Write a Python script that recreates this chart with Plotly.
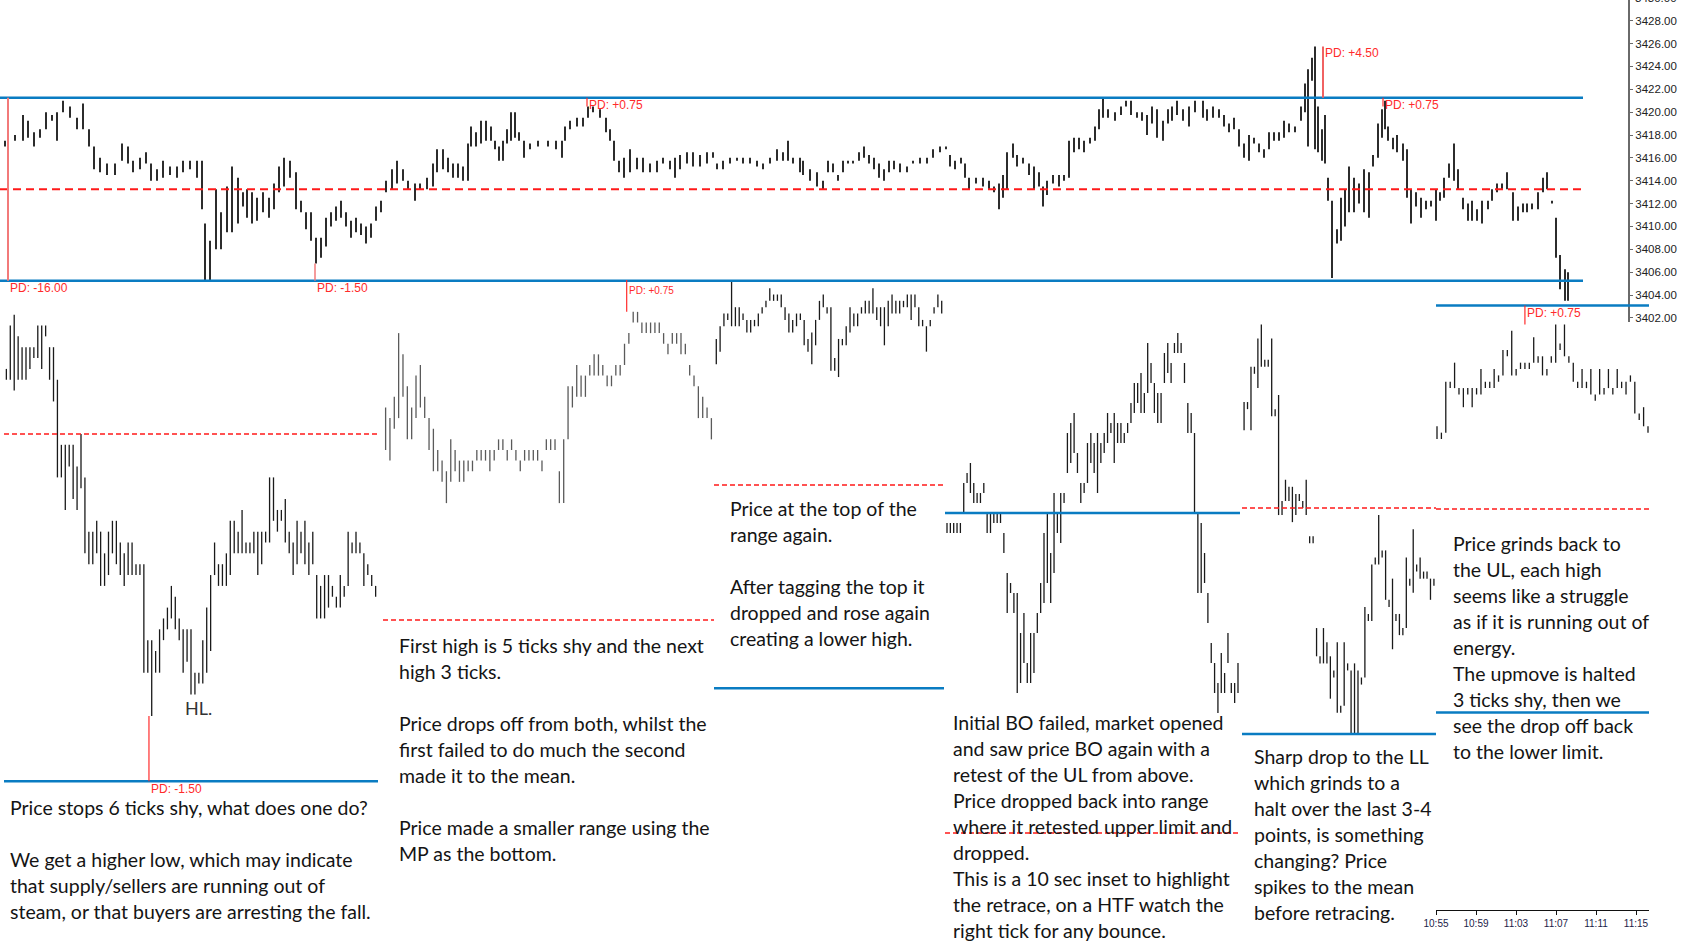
import plotly.graph_objects as go
import pandas as pd

W, H = 1682, 951

# ---------------- data ----------------
UL, MEAN, LL = 3421.25, 3413.25, 3405.25

main_x = [5, 15, 23, 28, 34, 40, 46, 52, 57, 63, 70, 77, 83, 89, 94, 100, 107, 115, 122, 128,
          133, 140, 146, 151, 157, 163, 170, 177, 183, 190, 197, 202, 205, 210, 216, 221, 227, 232, 238, 243,
          247, 252, 257, 263, 269, 274, 279, 284, 290, 296, 301, 306, 311, 316, 321, 326, 331, 336, 341, 346,
          351, 356, 361, 366, 371, 376, 381, 386, 392, 397,
          403, 408, 415, 420, 427, 433, 437, 443, 448, 453, 458, 463, 468, 471, 476, 481, 486, 491, 495, 499,
          503, 507, 511, 515, 519, 524, 530, 538, 548, 556, 562, 565, 570, 577, 583, 588, 593, 600, 606, 610,
          614, 619, 624, 630, 637, 643, 650, 657, 663, 670, 675, 680, 687, 693, 700, 707, 713, 717, 723, 730,
          737, 743, 750, 757, 763, 770, 777, 783, 788, 793, 800,
          803, 810, 817, 823, 828, 833, 838, 843, 848, 853, 859, 864, 869, 874, 879, 884, 889, 894, 900, 907,
          913, 920, 927, 933, 940, 946, 950, 955, 961, 965, 969, 976, 983, 989, 994, 999, 1003, 1007, 1013, 1017,
          1023, 1029, 1034, 1039, 1043, 1047, 1053, 1059, 1064, 1069, 1074, 1079, 1084, 1090, 1095, 1099, 1103, 1108, 1115, 1121,
          1126, 1131, 1137, 1142, 1147, 1152, 1157, 1163, 1168, 1172, 1177, 1183, 1189, 1195,
          1203, 1207, 1213, 1219, 1224, 1229, 1234, 1239, 1244, 1249, 1254, 1259, 1264, 1269, 1274, 1279, 1284, 1289, 1295, 1301,
          1305, 1308, 1312, 1315, 1318, 1322, 1325, 1328, 1332, 1337, 1341, 1345, 1349, 1354, 1359, 1364, 1369, 1373, 1378, 1382,
          1385, 1388, 1393, 1397, 1403, 1407, 1411, 1416, 1421, 1426, 1431, 1436, 1440, 1444, 1449, 1454, 1458, 1463, 1468, 1472,
          1477, 1482, 1488, 1492, 1497, 1502, 1507, 1513, 1518, 1523, 1527, 1532, 1538, 1543, 1547, 1552, 1556, 1560, 1565, 1568]

main_high = [3417.5, 3418.0, 3419.75, 3419.25, 3418.25, 3418.5, 3420.0, 3419.75, 3420.0, 3421.0,
             3420.5, 3419.5, 3420.75, 3418.5, 3417.0, 3416.0, 3415.5, 3415.5, 3417.25, 3417.0,
             3415.75, 3416.0, 3416.5, 3415.5, 3415.0, 3415.75, 3415.25, 3415.25, 3415.75, 3415.75,
             3415.75, 3415.75, 3410.25, 3408.75, 3413.25, 3411.25, 3413.5, 3415.25, 3414.25, 3413.0,
             3413.25, 3413.0, 3412.5, 3413.0, 3412.5, 3413.75, 3415.25, 3416.0, 3415.75, 3414.75,
             3412.25, 3411.25, 3411.25, 3409.0, 3409.0, 3410.75, 3411.25, 3411.75, 3412.25, 3411.25,
             3410.5, 3410.75, 3410.25, 3410.0, 3410.25, 3411.75, 3412.25, 3414.0, 3415.0, 3415.75,
             3415.0, 3414.0, 3413.75, 3413.75, 3414.25, 3415.5, 3416.75, 3416.75, 3416.0, 3415.5,
             3415.5, 3415.25, 3417.25, 3418.75, 3418.25, 3419.25, 3419.25, 3418.75, 3417.5, 3417.0,
             3417.5, 3418.5, 3420.0, 3420.0, 3418.25, 3417.5, 3417.25, 3417.5, 3417.5, 3417.5,
             3417.5, 3418.75, 3419.25, 3419.5, 3419.5, 3420.5, 3420.5, 3420.25, 3419.5, 3418.5,
             3417.5, 3415.75, 3416.0, 3416.75, 3416.0, 3416.0, 3415.5, 3415.75, 3416.0, 3415.75,
             3416.0, 3416.25, 3416.5, 3416.5, 3416.25, 3416.5, 3416.5, 3415.5, 3415.75, 3416.0,
             3416.0, 3416.0, 3416.0, 3415.75, 3415.5, 3416.0, 3416.75, 3416.5, 3417.5, 3416.0,
             3416.0,
             3415.75, 3415.0, 3414.75, 3414.0, 3415.75, 3415.5, 3414.5, 3415.75, 3415.75, 3415.75,
             3416.5, 3417.0, 3416.25, 3416.0, 3415.5, 3415.0, 3415.75, 3415.75, 3415.5, 3415.25,
             3415.75, 3416.0, 3416.0, 3416.75, 3417.0, 3417.0, 3416.25, 3415.75, 3416.0, 3415.5,
             3414.25, 3414.25, 3414.25, 3414.0, 3413.5, 3413.75, 3414.5, 3416.5, 3417.25, 3416.25,
             3416.0, 3415.5, 3415.25, 3414.75, 3413.5, 3414.0, 3414.5, 3414.5, 3414.5, 3417.5,
             3417.75, 3417.75, 3417.5, 3417.75, 3418.75, 3420.25, 3421.25, 3420.25, 3420.0, 3420.5,
             3421.0, 3421.0, 3420.0, 3420.0, 3419.75, 3420.5, 3420.25, 3419.25, 3420.25, 3420.5,
             3421.0, 3420.25, 3420.5, 3421.0,
             3421.0, 3420.25, 3420.5, 3420.25, 3419.75, 3419.0, 3419.5, 3418.5, 3417.25, 3418.0,
             3417.75, 3417.25, 3416.75, 3418.25, 3418.25, 3418.25, 3419.25, 3419.0, 3418.75, 3420.5,
             3422.5, 3423.75, 3424.75, 3425.75, 3420.5, 3418.5, 3419.75, 3414.25, 3412.25, 3409.75,
             3412.5, 3413.25, 3415.25, 3414.25, 3413.75, 3415.0, 3414.75, 3416.25, 3419.0, 3420.25,
             3421.0, 3418.75, 3417.75, 3418.0, 3417.25, 3416.75, 3413.25, 3413.0, 3412.5, 3412.25,
             3412.25, 3413.25, 3413.0, 3414.25, 3415.5, 3417.25, 3415.0, 3412.5, 3412.0, 3412.25,
             3411.5, 3412.25, 3412.25, 3413.25, 3413.75, 3413.75, 3414.75, 3413.0, 3411.75, 3412.0,
             3412.0, 3412.0, 3413.0, 3414.25, 3414.75, 3412.25, 3410.75, 3407.5, 3406.25, 3406.0]

main_low = [3417.0, 3417.5, 3417.5, 3417.75, 3417.0, 3417.75, 3418.5, 3419.25, 3417.5, 3420.0,
            3419.5, 3418.5, 3418.5, 3417.0, 3415.0, 3414.75, 3414.5, 3414.5, 3415.75, 3415.5,
            3414.75, 3415.0, 3415.5, 3414.0, 3414.0, 3414.25, 3414.5, 3414.25, 3414.75, 3415.0,
            3414.25, 3411.5, 3405.25, 3405.25, 3408.0, 3408.0, 3409.5, 3409.5, 3410.25, 3411.75,
            3410.75, 3410.25, 3410.5, 3411.25, 3410.75, 3411.5, 3413.0, 3413.5, 3414.25, 3411.5,
            3411.25, 3409.75, 3408.75, 3406.75, 3407.25, 3408.25, 3410.0, 3410.5, 3410.75, 3410.0,
            3409.0, 3409.5, 3409.25, 3408.5, 3409.0, 3410.5, 3411.25, 3413.0, 3413.25, 3413.75,
            3414.0, 3413.25, 3412.25, 3413.25, 3413.25, 3413.5, 3414.75, 3415.0, 3414.75, 3414.25,
            3414.25, 3414.0, 3414.0, 3417.0, 3417.0, 3417.25, 3417.5, 3417.5, 3416.75, 3415.75,
            3415.75, 3417.25, 3417.5, 3417.75, 3417.5, 3416.0, 3416.75, 3417.0, 3417.0, 3416.75,
            3416.0, 3417.5, 3418.5, 3418.75, 3418.75, 3419.5, 3420.0, 3419.5, 3418.25, 3417.5,
            3415.75, 3414.75, 3414.25, 3414.75, 3415.0, 3414.75, 3414.75, 3414.75, 3415.5, 3415.0,
            3414.25, 3415.0, 3415.5, 3415.25, 3415.25, 3415.5, 3416.0, 3415.0, 3415.0, 3415.5,
            3415.75, 3415.5, 3415.5, 3415.25, 3415.0, 3415.5, 3415.75, 3415.75, 3415.75, 3415.5,
            3414.75,
            3414.5, 3414.0, 3413.5, 3413.25, 3414.75, 3414.75, 3414.0, 3414.75, 3415.5, 3415.5,
            3415.75, 3416.0, 3415.5, 3415.0, 3414.25, 3414.0, 3414.75, 3415.0, 3414.75, 3414.75,
            3415.5, 3415.5, 3415.5, 3416.0, 3416.5, 3416.75, 3415.25, 3415.0, 3415.5, 3414.25,
            3413.25, 3413.75, 3413.5, 3413.25, 3413.0, 3411.5, 3412.5, 3413.25, 3416.0, 3415.25,
            3415.5, 3414.5, 3413.25, 3413.5, 3411.75, 3412.75, 3413.75, 3413.5, 3414.0, 3414.25,
            3416.5, 3416.75, 3416.5, 3417.25, 3417.5, 3418.5, 3419.5, 3419.5, 3419.25, 3419.75,
            3420.5, 3419.75, 3419.5, 3419.25, 3418.0, 3419.0, 3417.75, 3417.5, 3419.0, 3419.25,
            3419.75, 3419.25, 3418.75, 3420.0,
            3419.5, 3419.25, 3419.5, 3419.5, 3418.75, 3418.25, 3418.5, 3417.0, 3416.0, 3415.75,
            3417.25, 3416.5, 3416.0, 3416.75, 3417.5, 3417.5, 3417.75, 3418.25, 3418.25, 3419.25,
            3420.0, 3417.0, 3422.75, 3416.75, 3416.5, 3415.75, 3415.5, 3412.25, 3405.5, 3408.5,
            3408.75, 3410.0, 3411.25, 3411.25, 3412.0, 3411.25, 3410.75, 3415.25, 3416.0, 3417.75,
            3418.5, 3417.5, 3416.75, 3416.5, 3415.75, 3412.5, 3410.25, 3411.75, 3410.75, 3411.5,
            3411.75, 3410.5, 3412.25, 3412.5, 3414.25, 3414.0, 3413.25, 3411.5, 3410.5, 3410.5,
            3410.5, 3410.25, 3411.5, 3412.25, 3413.0, 3413.25, 3413.25, 3410.5, 3410.5, 3411.25,
            3411.25, 3411.5, 3411.5, 3413.0, 3413.25, 3412.0, 3407.25, 3404.5, 3403.5, 3403.5]

main_ticks = [3402, 3404, 3406, 3408, 3410, 3412, 3414, 3416, 3418, 3420, 3422, 3424, 3426, 3428]

# PD markers on the main chart
pd_x = [8, 315, 587, 1323, 1383]
pd_from = [UL, LL, UL, UL, UL]
pd_to = [LL, 3406.75, 3420.5, 3425.75, 3420.5]
pd_text = ["PD: -16.00", "PD: -1.50", "PD: +0.75", "PD: +4.50", "PD: +0.75"]

inset1_high = [3414.75, 3415.75, 3416.0, 3415.5, 3415.25, 3415.25, 3415.25, 3415.25, 3415.75, 3415.75,
               3415.75, 3415.25, 3415.25, 3414.5, 3413.0, 3413.0, 3413.0, 3413.0, 3412.5, 3413.25,
               3412.25, 3411.0, 3411.0, 3411.25, 3411.0, 3410.5, 3411.0, 3411.25, 3411.25, 3410.75,
               3410.5, 3410.75, 3410.75, 3410.25, 3410.25, 3410.25, 3408.5, 3408.5, 3408.25, 3408.75,
               3409.0, 3409.25, 3409.75, 3409.5, 3409.0, 3408.75, 3408.75, 3408.75, 3407.75, 3407.75,
               3408.5, 3409.25, 3410.0, 3410.75, 3410.25, 3410.25, 3410.5, 3411.25, 3411.25, 3411.0,
               3411.5, 3410.75, 3410.75, 3411.0, 3411.0, 3411.0, 3411.0, 3412.25, 3412.25, 3411.5,
               3411.5, 3411.75, 3411.0, 3410.75, 3411.25, 3411.0, 3411.25, 3410.75, 3411.0, 3410.0,
               3409.75, 3410.0, 3410.0, 3409.75, 3409.5, 3410.0, 3409.75, 3411.0, 3410.75, 3411.0,
               3410.75, 3410.5, 3410.25, 3410.0, 3409.75]
inset1_low = [3414.5, 3414.5, 3414.25, 3414.5, 3414.5, 3414.5, 3414.75, 3415.0, 3415.0, 3414.75,
              3415.5, 3414.5, 3414.0, 3412.25, 3412.25, 3411.5, 3412.5, 3411.75, 3411.5, 3412.0,
              3410.5, 3410.25, 3410.25, 3410.5, 3409.75, 3409.75, 3410.0, 3410.5, 3410.25, 3410.0,
              3409.75, 3410.0, 3410.0, 3410.0, 3410.0, 3407.75, 3407.75, 3406.75, 3407.75, 3407.75,
              3408.5, 3408.75, 3409.0, 3408.75, 3408.5, 3407.75, 3408.0, 3407.25, 3407.25, 3407.5,
              3407.5, 3407.75, 3408.25, 3410.0, 3409.75, 3409.75, 3409.75, 3410.0, 3410.5, 3410.5,
              3410.5, 3410.5, 3410.5, 3410.5, 3410.0, 3410.25, 3410.75, 3410.75, 3411.25, 3411.0,
              3411.25, 3410.75, 3410.5, 3410.0, 3410.25, 3410.5, 3410.25, 3410.0, 3410.25, 3409.0,
              3409.0, 3409.0, 3409.25, 3409.5, 3409.25, 3409.25, 3409.5, 3409.75, 3410.5, 3410.5,
              3410.5, 3409.75, 3410.0, 3409.75, 3409.5]

inset2_high = [3418.25, 3418.0, 3418.5, 3420.0, 3419.5, 3418.75, 3418.25, 3419.0, 3419.25, 3418.5,
               3418.0, 3417.75, 3417.25, 3417.0, 3416.75, 3417.5, 3417.25, 3417.0, 3417.0, 3417.0,
               3417.0, 3417.25, 3417.25, 3417.25, 3417.25, 3417.25, 3417.5, 3417.5, 3417.25, 3417.5,
               3417.25, 3417.0, 3417.25, 3417.25, 3417.25, 3417.25, 3417.0, 3417.5, 3417.5, 3417.5,
               3416.75, 3417.5, 3418.75, 3418.75, 3419.25, 3419.0, 3419.0, 3419.25, 3419.5, 3419.5,
               3419.25, 3419.0, 3419.0, 3419.25, 3419.25, 3419.75, 3420.0, 3420.5, 3420.5, 3420.25,
               3420.25, 3420.25, 3420.25, 3420.25, 3420.0, 3419.75, 3420.0, 3420.0, 3420.0, 3419.75,
               3419.25, 3419.0, 3418.75, 3418.5, 3418.25, 3418.0]
inset2_low = [3417.25, 3417.0, 3417.75, 3418.0, 3418.5, 3417.5, 3417.5, 3418.0, 3418.25, 3418.0,
              3417.25, 3416.75, 3416.75, 3416.5, 3416.0, 3416.5, 3416.75, 3416.5, 3416.5, 3416.75,
              3416.75, 3417.0, 3417.0, 3417.0, 3416.75, 3417.0, 3417.25, 3417.25, 3417.0, 3417.25,
              3417.0, 3416.75, 3417.0, 3417.0, 3417.0, 3417.0, 3416.75, 3417.25, 3417.25, 3417.25,
              3416.0, 3416.0, 3417.5, 3418.25, 3418.5, 3418.5, 3418.5, 3419.0, 3419.0, 3419.0,
              3419.0, 3418.75, 3418.75, 3419.0, 3419.0, 3419.25, 3419.75, 3420.25, 3420.25, 3420.0,
              3420.0, 3420.0, 3420.0, 3420.0, 3419.75, 3419.5, 3419.75, 3419.75, 3419.5, 3419.5,
              3419.0, 3418.75, 3418.0, 3418.0, 3418.0, 3417.5]

inset3_high = [3419.0, 3419.5, 3420.0, 3420.0, 3421.25, 3420.25, 3420.25, 3420.0, 3419.75, 3419.75,
               3419.75, 3420.0, 3420.25, 3420.5, 3421.0, 3420.75, 3420.75, 3420.75, 3420.25, 3420.0,
               3419.75, 3420.0, 3420.0, 3419.75, 3419.0, 3419.25, 3419.75, 3420.5, 3420.75, 3420.25,
               3420.25, 3418.25, 3419.0, 3419.0, 3419.5, 3420.25, 3420.0, 3420.0, 3420.25, 3420.5,
               3420.5, 3421.0, 3420.25, 3420.25, 3420.25, 3420.5, 3420.75, 3420.5, 3420.5, 3420.5,
               3420.75, 3420.75, 3420.75, 3420.25, 3419.75, 3419.5, 3419.75, 3420.25, 3420.75, 3420.5]
inset3_low = [3418.0, 3418.5, 3419.5, 3419.75, 3419.5, 3419.5, 3419.5, 3419.75, 3419.25, 3419.25,
              3419.5, 3419.5, 3420.0, 3420.25, 3420.5, 3420.5, 3420.5, 3420.25, 3419.75, 3419.25,
              3419.25, 3419.5, 3419.75, 3418.75, 3418.5, 3418.0, 3418.75, 3419.75, 3420.25, 3420.0,
              3417.75, 3417.75, 3417.5, 3418.75, 3418.75, 3419.25, 3419.5, 3419.5, 3420.0, 3420.0,
              3420.0, 3420.0, 3419.75, 3419.5, 3418.75, 3419.5, 3420.0, 3420.0, 3420.0, 3420.25,
              3420.25, 3419.75, 3420.25, 3419.5, 3419.5, 3418.5, 3419.5, 3420.0, 3420.25, 3420.0]

inset4_high = [3421.0, 3421.0, 3421.0, 3421.0, 3421.0, 3422.0, 3422.25, 3422.5, 3422.0, 3421.75,
               3421.75, 3422.0, 3421.25, 3421.25, 3421.25, 3421.25, 3421.25, 3420.75, 3419.75, 3419.5,
               3419.25, 3419.25, 3418.25, 3418.75, 3417.5, 3418.25, 3418.25, 3418.75, 3419.5, 3420.75,
               3421.25, 3420.25, 3421.75, 3421.25, 3421.75, 3421.75, 3423.25, 3423.5, 3423.75, 3422.75,
               3422.0, 3422.0, 3423.0, 3423.25, 3423.0, 3423.25, 3423.0, 3423.25, 3423.75, 3423.5,
               3423.75, 3423.5, 3423.5, 3423.25, 3423.5, 3424.0, 3424.5, 3424.5, 3424.75, 3424.25,
               3425.5, 3425.0, 3424.5, 3424.25, 3424.25, 3425.25, 3425.5, 3425.0, 3425.5, 3425.75,
               3425.5, 3425.0, 3424.0, 3423.75, 3423.25, 3421.25, 3421.0, 3420.25, 3419.25, 3418.0,
               3417.5, 3417.0, 3417.75, 3417.25, 3418.25, 3417.0, 3417.0, 3417.5]
inset4_low = [3420.75, 3420.75, 3420.75, 3420.75, 3420.75, 3421.25, 3422.0, 3421.75, 3421.5, 3421.5,
              3421.5, 3421.75, 3420.75, 3420.75, 3421.0, 3421.0, 3421.0, 3420.25, 3418.75, 3419.25,
              3418.75, 3416.75, 3417.0, 3417.5, 3417.0, 3417.0, 3417.25, 3418.25, 3418.75, 3419.0,
              3419.5, 3419.0, 3419.75, 3420.75, 3420.5, 3421.5, 3422.25, 3422.5, 3422.75, 3422.25,
              3421.5, 3421.75, 3422.0, 3422.5, 3422.25, 3421.75, 3422.5, 3422.75, 3423.0, 3423.25,
              3422.5, 3423.0, 3423.0, 3423.0, 3423.25, 3423.5, 3423.75, 3424.0, 3423.75, 3423.75,
              3424.25, 3424.5, 3423.75, 3423.5, 3423.5, 3424.5, 3424.75, 3424.5, 3425.25, 3425.25,
              3425.25, 3424.5, 3423.25, 3423.25, 3421.25, 3419.25, 3419.25, 3419.5, 3418.5, 3417.5,
              3416.75, 3416.25, 3416.75, 3416.75, 3417.5, 3416.75, 3416.5, 3416.75]

inset5_high = [3417.0, 3417.0, 3418.25, 3418.25, 3419.25, 3419.75, 3418.5, 3418.5, 3419.25, 3416.75,
               3417.25, 3413.5, 3414.25, 3414.0, 3414.0, 3413.75, 3413.75, 3413.5, 3414.25, 3412.25,
               3412.25, 3409.0, 3408.0, 3409.0, 3408.5, 3408.0, 3407.5, 3408.5, 3406.25, 3408.5,
               3407.75, 3407.5, 3407.75, 3407.5, 3407.25, 3409.75, 3409.5, 3411.25, 3411.5, 3413.0,
               3411.75, 3411.75, 3410.0, 3410.75, 3409.5, 3409.5, 3409.0, 3411.5, 3410.75, 3412.5,
               3411.25, 3411.5, 3411.0, 3411.0, 3410.75, 3410.75]
inset5_low = [3416.0, 3416.75, 3416.0, 3418.0, 3417.5, 3418.25, 3418.25, 3418.25, 3416.5, 3416.5,
              3413.0, 3413.0, 3413.5, 3413.5, 3412.75, 3413.0, 3413.5, 3413.25, 3413.0, 3412.0,
              3412.0, 3408.0, 3407.75, 3407.75, 3407.75, 3406.5, 3407.25, 3406.0, 3406.0, 3406.25,
              3407.5, 3405.25, 3405.25, 3405.25, 3407.0, 3407.25, 3409.25, 3409.25, 3411.25, 3411.25,
              3411.5, 3410.0, 3409.75, 3408.25, 3409.25, 3408.75, 3408.75, 3409.0, 3410.5, 3410.25,
              3411.0, 3410.75, 3410.75, 3410.75, 3410.0, 3410.5]

inset6_high = [3416.5, 3416.25, 3418.25, 3418.25, 3419.0, 3418.0, 3418.0, 3418.0, 3418.0, 3418.0,
               3418.75, 3418.25, 3418.25, 3418.75, 3418.5, 3419.5, 3419.5, 3420.25, 3418.75, 3419.0,
               3419.0, 3419.0, 3420.0, 3419.25, 3419.25, 3418.75, 3419.25, 3420.5, 3419.75, 3420.5,
               3419.25, 3419.0, 3418.25, 3418.75, 3418.25, 3418.75, 3417.75, 3418.75, 3418.0, 3418.75,
               3418.0, 3418.75, 3418.25, 3418.25, 3418.5, 3418.25, 3417.0, 3417.25, 3416.5]
inset6_low = [3416.0, 3416.0, 3416.25, 3418.0, 3418.0, 3417.75, 3417.25, 3417.75, 3417.25, 3417.75,
              3417.75, 3418.0, 3418.0, 3418.0, 3418.25, 3418.5, 3419.25, 3418.5, 3418.5, 3418.75,
              3418.75, 3418.75, 3419.0, 3419.0, 3418.5, 3418.5, 3419.0, 3419.0, 3419.5, 3419.25,
              3419.0, 3418.25, 3418.0, 3418.0, 3418.0, 3417.75, 3417.5, 3417.75, 3417.75, 3418.0,
              3417.75, 3418.0, 3418.0, 3417.75, 3418.25, 3417.0, 3416.75, 3416.5, 3416.25]
inset6_start, inset6_end = "2020-09-14 10:55:06", "2020-09-14 11:16:12"
inset6_tick_times = ["2020-09-14 10:55", "2020-09-14 10:59", "2020-09-14 11:03",
                     "2020-09-14 11:07", "2020-09-14 11:11", "2020-09-14 11:15"]
inset6_tick_text = ["10:55", "10:59", "11:03", "11:07", "11:11", "11:15"]

notes1 = ["Price stops 6 ticks shy, what does one do?", "",
          "We get a higher low, which may indicate", "that supply/sellers are running out of",
          "steam, or that buyers are arresting the fall."]
notes2 = ["First high is 5 ticks shy and the next", "high 3 ticks.", "",
          "Price drops off from both, whilst the", "first failed to do much the second",
          "made it to the mean.", "", "Price made a smaller range using the", "MP as the bottom."]
notes3 = ["Price at the top of the", "range again.", "",
          "After tagging the top it", "dropped and rose again", "creating a lower high."]
notes4 = ["Initial BO failed, market opened", "and saw price BO again with a",
          "retest of the UL from above.", "Price dropped back into range",
          "where it retested upper limit and", "dropped.", "This is a 10 sec inset to highlight",
          "the retrace, on a HTF watch the", "right tick for any bounce."]
notes5 = ["Sharp drop to the LL", "which grinds to a", "halt over the last 3-4",
          "points, is something", "changing? Price", "spikes to the mean", "before retracing."]
notes6 = ["Price grinds back to", "the UL, each high", "seems like a struggle",
          "as if it is running out of", "energy.", "The upmove is halted",
          "3 ticks shy, then we", "see the drop off back", "to the lower limit."]

# ---------------- helpers ----------------
def fx(px):
    return px / W

def fy(py):
    return 1 - py / H

def bar_path(xs, hs, ls):
    X, Y = [], []
    for x, h, l in zip(xs, hs, ls):
        X += [x, x, None]
        Y += [h, l, None]
    return X, Y

BLUE = "#0a7cc2"
RED = "#ff1a1a"
PDRED = "#ff2b2b"
TXT = "#141414"
TEXT_FONT = "Lato"

fig = go.Figure()
shapes = []
annotations = []

# ---------------- main chart ----------------
MAIN_PX_PER_PT = 11.43
MAIN_TOP_Y, MAIN_BOT_Y, MAIN_AXIS_X = 0, 322, 1628
main_top_p = 3428 + (20.7 - MAIN_TOP_Y) / MAIN_PX_PER_PT
main_bot_p = 3428 - (MAIN_BOT_Y - 20.7) / MAIN_PX_PER_PT

X, Y = bar_path(main_x, main_high, main_low)
fig.add_trace(go.Scatter(x=X, y=Y, mode="lines", line=dict(color="#2c2c2c", width=2.0),
                         xaxis="x", yaxis="y", hoverinfo="skip", showlegend=False))

for lvl, col, dash, w in [(UL, BLUE, "solid", 2.5), (LL, BLUE, "solid", 2.5), (MEAN, RED, "8px,5px", 2)]:
    shapes.append(dict(type="line", xref="x", yref="y", x0=0, x1=1583, y0=lvl, y1=lvl,
                       line=dict(color=col, width=w, dash=dash)))

pd_label_y = [288, 288, 105, 53, 105]
pd_colors = ["#f27a7a", "#f27a7a", PDRED, "#f06262", PDRED]
pd_widths = [2, 1.5, 1.2, 2, 1.2]
for x, a, b, t, ly, c, w in zip(pd_x, pd_from, pd_to, pd_text, pd_label_y, pd_colors, pd_widths):
    shapes.append(dict(type="line", xref="x", yref="y", x0=x, x1=x, y0=a, y1=b,
                       line=dict(color=c, width=w)))
    annotations.append(dict(x=x, y=fy(ly), xref="x", yref="paper", text=t, showarrow=False,
                            xanchor="left", yanchor="middle",
                            font=dict(family="Liberation Sans", size=12, color=PDRED)))

annotations.append(dict(x=fx(MAIN_AXIS_X + 5), y=fy(-2), xref="paper", yref="paper", text="3430.00",
                        showarrow=False, xanchor="left", yanchor="middle",
                        font=dict(family="Liberation Sans", size=11.5, color="#222")))

layout_axes = dict(
    xaxis=dict(domain=[0, fx(MAIN_AXIS_X)], range=[0, MAIN_AXIS_X], visible=False, anchor="y",
               automargin=False),
    yaxis=dict(domain=[fy(MAIN_BOT_Y), fy(MAIN_TOP_Y)], range=[main_bot_p, main_top_p], side="right",
               anchor="x", showline=True, linecolor="#6a6a6a", linewidth=2, ticks="outside", ticklen=3,
               tickcolor="#6a6a6a", tickvals=main_ticks, ticktext=[f"{v:.2f}" for v in main_ticks],
               tickfont=dict(family="Liberation Sans", size=11.5, color="#222"), showgrid=False,
               zeroline=False, automargin=False),
)

# ---------------- insets ----------------
# (x0, x1, ytop, ybot) pixel box, pixel-per-point scale, reference price and its pixel row
insets = [
    dict(h=inset1_high, l=inset1_low, box=(4, 378, 290, 800), scale=43.4, ref=(MEAN, 434),
         lines=[(MEAN, "red"), (LL, "blue")], color="#1a1a1a"),
    dict(h=inset2_high, l=inset2_low, box=(383, 714, 270, 640), scale=42.5, ref=(MEAN, 620),
         lines=[(MEAN, "red")], color="#5a5a5a"),
    dict(h=inset3_high, l=inset3_low, box=(714, 944, 270, 700), scale=25.4, ref=(MEAN, 485),
         lines=[(MEAN, "red"), (LL, "blue")], color="#1a1a1a"),
    dict(h=inset4_high, l=inset4_low, box=(945, 1240, 320, 840), scale=40.0, ref=(UL, 513),
         lines=[(UL, "blue"), (MEAN, "red")], color="#1a1a1a"),
    dict(h=inset5_high, l=inset5_low, box=(1242, 1436, 315, 745), scale=28.25, ref=(MEAN, 508),
         lines=[(MEAN, "red"), (LL, "blue")], color="#1a1a1a"),
]

for k, ins in enumerate(insets, start=2):
    x0, x1, yt, yb = ins["box"]
    rp, ry = ins["ref"]
    ptop = rp + (ry - yt) / ins["scale"]
    pbot = rp - (yb - ry) / ins["scale"]
    n = len(ins["h"])
    X, Y = bar_path(list(range(n)), ins["h"], ins["l"])
    fig.add_trace(go.Scatter(x=X, y=Y, mode="lines", line=dict(color=ins["color"], width=1.3),
                             xaxis=f"x{k}", yaxis=f"y{k}", hoverinfo="skip", showlegend=False))
    layout_axes[f"xaxis{k}"] = dict(domain=[fx(x0), fx(x1)], range=[-0.6, n - 0.4], visible=False,
                                    anchor=f"y{k}", automargin=False)
    layout_axes[f"yaxis{k}"] = dict(domain=[fy(yb), fy(yt)], range=[pbot, ptop], visible=False,
                                    anchor=f"x{k}", automargin=False)
    for lvl, kind in ins["lines"]:
        if kind == "blue":
            ln = dict(color=BLUE, width=2.5)
        else:
            ln = dict(color=RED, width=1.6, dash="5px,3px")
        shapes.append(dict(type="line", xref=f"x{k} domain", yref=f"y{k}", x0=0, x1=1,
                           y0=lvl, y1=lvl, line=ln))

# inset 1 PD marker and HL label
i1_low_idx = inset1_low.index(min(inset1_low))
shapes.append(dict(type="line", xref="x2", yref="y2", x0=i1_low_idx - 0.7, x1=i1_low_idx - 0.7,
                   y0=min(inset1_low), y1=LL, line=dict(color=PDRED, width=1.2)))
annotations.append(dict(x=i1_low_idx - 0.7, y=fy(789), xref="x2", yref="paper", text="PD: -1.50",
                        showarrow=False, xanchor="left", yanchor="middle",
                        font=dict(family="Liberation Sans Narrow, Liberation Sans", size=12, color=PDRED)))
annotations.append(dict(x=fx(183), y=fy(708), xref="paper", yref="paper", text="HL.", showarrow=False,
                        xanchor="left", yanchor="middle", font=dict(family=TEXT_FONT, size=18, color="#333")))

# inset 2 PD marker
i2_hi_idx = inset2_high.index(max(inset2_high))
shapes.append(dict(type="line", xref="x3", yref="y3", x0=i2_hi_idx - 1.5, x1=i2_hi_idx - 1.5,
                   y0=UL, y1=max(inset2_high), line=dict(color=PDRED, width=1.2)))
annotations.append(dict(x=i2_hi_idx - 1.5, y=fy(290), xref="x3", yref="paper", text="PD: +0.75",
                        showarrow=False, xanchor="left", yanchor="middle",
                        font=dict(family="Liberation Sans Narrow, Liberation Sans", size=10, color=PDRED)))

# ---------------- inset 6 (time axis) ----------------
x0, x1, yt, yb = 1436, 1649, 295, 910
sc6, rp6, ry6 = 25.45, MEAN, 509
p6top = rp6 + (ry6 - yt) / sc6
p6bot = rp6 - (yb - ry6) / sc6
t6 = pd.date_range(inset6_start, inset6_end, periods=len(inset6_high))
X, Y = bar_path(list(t6), inset6_high, inset6_low)
fig.add_trace(go.Scatter(x=X, y=Y, mode="lines", line=dict(color="#1a1a1a", width=1.3),
                         xaxis="x7", yaxis="y7", hoverinfo="skip", showlegend=False))
layout_axes["xaxis7"] = dict(domain=[fx(x0), fx(x1)], type="date",
                             range=["2020-09-14 10:55:00", "2020-09-14 11:16:18"],
                             anchor="y7", showline=True, linecolor="#111", linewidth=1,
                             ticks="outside", ticklen=4, tickcolor="#111",
                             tickvals=inset6_tick_times, ticktext=inset6_tick_text,
                             tickfont=dict(family="Liberation Sans", size=10, color="#1c1c48"),
                             showgrid=False, zeroline=False, automargin=False)
layout_axes["yaxis7"] = dict(domain=[fy(yb), fy(yt)], range=[p6bot, p6top], visible=False, anchor="x7",
                             automargin=False)
for lvl, ln in [(UL, dict(color=BLUE, width=2.5)), (LL, dict(color=BLUE, width=2.5)),
                (MEAN, dict(color=RED, width=1.6, dash="5px,3px"))]:
    shapes.append(dict(type="line", xref="x7 domain", yref="y7", x0=0, x1=1, y0=lvl, y1=lvl, line=ln))
pd6_t = t6[20]
shapes.append(dict(type="line", xref="x7", yref="y7", x0=pd6_t, x1=pd6_t, y0=UL, y1=max(inset6_high),
                   line=dict(color=PDRED, width=1.2)))
annotations.append(dict(x=pd6_t, y=fy(313), xref="x7", yref="paper", text="PD: +0.75", showarrow=False,
                        xanchor="left", yanchor="middle",
                        font=dict(family="Liberation Sans", size=12, color=PDRED)))

# ---------------- commentary text ----------------
LINE_STEP = 26
for lines, xl, y0 in [(notes1, 8, 807), (notes2, 397, 645), (notes3, 728, 508),
                      (notes4, 951, 722), (notes5, 1252, 756), (notes6, 1451, 543)]:
    for i, s in enumerate(lines):
        if not s:
            continue
        annotations.append(dict(x=fx(xl), y=fy(y0 + i * LINE_STEP), xref="paper", yref="paper", text=s,
                                showarrow=False, xanchor="left", yanchor="middle",
                                font=dict(family=TEXT_FONT, size=19.5, color=TXT)))

fig.update_layout(width=W, height=H, margin=dict(l=0, r=0, t=0, b=0, pad=0, autoexpand=False),
                  paper_bgcolor="white", plot_bgcolor="rgba(0,0,0,0)", shapes=shapes,
                  annotations=annotations, showlegend=False, **layout_axes)

page_fix = ("document.body.style.margin='0';document.body.style.padding='0';"
            "document.body.style.overflow='hidden';")
fig.write_html("out.html", post_script=page_fix, config={"displayModeBar": False})
